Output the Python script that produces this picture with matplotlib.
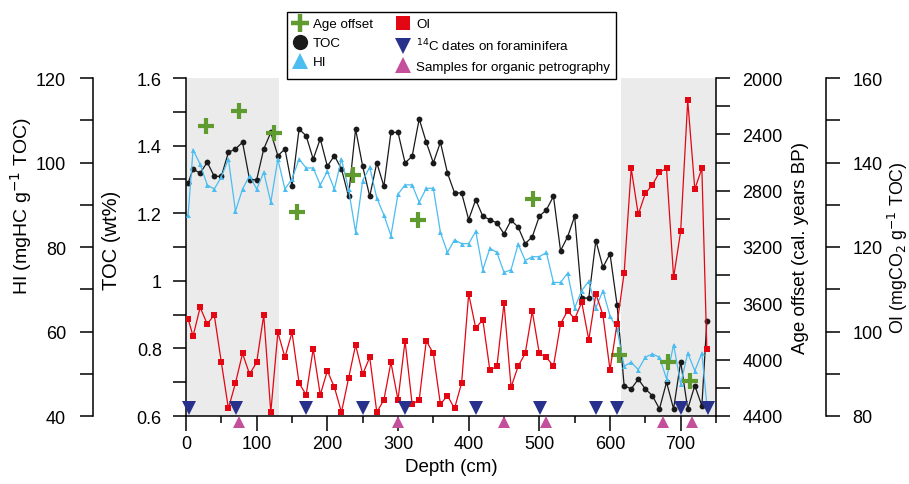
import matplotlib
matplotlib.use("Agg")
import matplotlib.pyplot as plt
from matplotlib.lines import Line2D
from matplotlib.ticker import MultipleLocator, FixedLocator
import matplotlib.transforms as mtransforms

plt.rcParams['font.family'] = ['Liberation Sans', 'DejaVu Sans']

# ---------------- data ----------------
depth = [3, 10, 20, 30, 40, 50, 60, 70, 80, 90,
         100, 110, 120, 130, 140, 150, 160, 170, 180, 190,
         200, 210, 220, 230, 240, 250, 260, 270, 280, 290,
         300, 310, 320, 330, 340, 350, 360, 370, 380, 390,
         400, 410, 420, 430, 440, 450, 460, 470, 480, 490,
         500, 510, 520, 530, 540, 550, 560, 570, 580, 590,
         600, 610, 620, 630, 640, 650, 660, 670, 680, 690,
         700, 710, 720, 730, 737]

toc = [1.289, 1.331, 1.318, 1.351, 1.309, 1.309, 1.380, 1.390, 1.410, 1.299,
       1.299, 1.390, 1.439, 1.370, 1.390, 1.280, 1.449, 1.429, 1.360, 1.420,
       1.339, 1.370, 1.331, 1.250, 1.449, 1.339, 1.250, 1.349, 1.280, 1.439,
       1.439, 1.349, 1.368, 1.479, 1.410, 1.349, 1.410, 1.319, 1.260, 1.260,
       1.181, 1.240, 1.191, 1.181, 1.171, 1.139, 1.179, 1.159, 1.110, 1.130,
       1.191, 1.210, 1.250, 1.089, 1.130, 1.191, 0.949, 0.949, 1.119, 1.040,
       1.080, 0.929, 0.690, 0.680, 0.709, 0.680, 0.660, 0.621, 0.700, 0.621,
       0.761, 0.621, 0.690, 0.630, 0.880]

hi = [87.6, 103.0, 99.6, 94.7, 93.7, 96.6, 100.8, 88.5, 93.7, 96.9,
      93.7, 97.7, 90.6, 100.8, 93.7, 96.1, 100.8, 98.7, 98.7, 94.7,
      97.9, 93.7, 100.8, 93.7, 83.5, 95.7, 98.9, 91.6, 87.6, 82.7,
      92.5, 94.7, 94.7, 90.6, 93.9, 93.9, 83.5, 78.7, 81.7, 80.8,
      80.8, 83.7, 74.6, 79.7, 78.7, 74.0, 74.6, 80.7, 76.8, 77.7,
      77.7, 78.7, 71.6, 71.6, 73.8, 65.6, 69.7, 71.9, 65.6, 69.7,
      63.7, 60.6, 51.8, 52.7, 51.0, 53.9, 54.7, 53.9, 48.8, 56.9,
      47.6, 54.9, 50.7, 54.9, 42.8]

oi = [103.0, 98.9, 105.7, 101.8, 103.9, 92.7, 81.8, 87.8, 94.8, 89.9,
      92.7, 103.9, 80.9, 99.8, 93.9, 99.8, 87.8, 85.0, 95.9, 85.0,
      90.7, 86.8, 80.9, 88.9, 96.8, 89.9, 93.9, 80.9, 83.8, 92.7,
      83.8, 97.8, 82.8, 83.8, 97.8, 94.8, 82.8, 84.8, 81.8, 87.8,
      108.9, 100.8, 102.8, 90.8, 91.8, 106.7, 86.8, 91.8, 94.8, 104.8,
      94.8, 93.9, 91.8, 101.8, 104.9, 103.0, 106.9, 98.0, 108.9, 103.9,
      90.9, 101.8, 113.8, 138.6, 127.7, 132.7, 134.7, 137.7, 138.6, 112.8,
      123.7, 154.7, 133.7, 138.6, 95.9]

age_depth = [29, 75, 125, 157, 236, 329, 491, 613, 682, 713]
age_offset = [2343, 2232, 2393, 2954, 2689, 3006, 2859, 3967, 4014, 4149]

c14_depth = [4, 71, 170, 250, 310, 410, 501, 580, 610, 700, 738]
petro_depth = [75, 300, 450, 510, 675, 716]

shade_ranges = [(0, 132), (616, 750)]

depth_ticks = [0, 100, 200, 300, 400, 500, 600, 700]
toc_ticks = [0.6, 0.8, 1.0, 1.2, 1.4, 1.6]
toc_ticklabels = ['0.6', '0.8', '1', '1.2', '1.4', '1.6']
hi_ticks = [40, 60, 80, 100, 120]
age_ticks = [2000, 2400, 2800, 3200, 3600, 4000, 4400]
oi_ticks = [80, 100, 120, 140, 160]

# ---------------- styles ----------------
C_TOC = '#1a1a1a'
C_HI = '#4cbdf0'
C_OI = '#e30613'
C_AGE = '#5f9b2f'
C_C14 = '#27318b'
C_PET = '#c4509c'
C_SHADE = '#ebebeb'
TICK_FS = 13
LABEL_FS = 13.5
SPW = 1.1

W, H = 909, 485
fig = plt.figure(figsize=(W / 100, H / 100), dpi=100)
L, R, B, T = 186, 716, 417, 79
ax = fig.add_axes([L / W, 1 - B / H, (R - L) / W, (B - T) / H])

for a, b in shade_ranges:
    ax.axvspan(a, b, color=C_SHADE, lw=0, zorder=0)

ax.set_xlim(0, 750)
ax.set_ylim(0.6, 1.6)
ax.xaxis.set_major_locator(FixedLocator(depth_ticks))
ax.xaxis.set_minor_locator(MultipleLocator(50))
ax.set_yticks(toc_ticks)
ax.set_yticklabels(toc_ticklabels)
ax.yaxis.set_minor_locator(MultipleLocator(0.1))
ax.tick_params(axis='x', which='major', length=10.8, width=SPW, labelsize=TICK_FS, pad=3)
ax.tick_params(axis='x', which='minor', length=5, width=SPW)
ax.tick_params(axis='y', which='both', length=9.4, width=SPW, labelsize=TICK_FS, pad=8)
ax.spines['top'].set_visible(False)
ax.spines['right'].set_visible(False)
ax.spines['left'].set_linewidth(SPW)
ax.spines['bottom'].set_linewidth(SPW)
ax.set_xlabel('Depth (cm)', fontsize=LABEL_FS, labelpad=4)
ax.set_ylabel('TOC (wt%)', fontsize=14.5)
ax.yaxis.set_label_coords((121 - L) / (R - L), (B - 240) / (B - T))

# HI axis (left, offset)
ax_hi = ax.twinx()
ax_hi.set_ylim(40, 120)
for s in ['right', 'top', 'bottom']:
    ax_hi.spines[s].set_visible(False)
ax_hi.spines['left'].set_visible(True)
ax_hi.spines['left'].set_position(('axes', (93 - L) / (R - L)))
ax_hi.spines['left'].set_linewidth(SPW)
ax_hi.yaxis.set_ticks_position('left')
ax_hi.yaxis.set_label_position('left')
ax_hi.set_yticks(hi_ticks)
ax_hi.yaxis.set_minor_locator(MultipleLocator(10))
ax_hi.tick_params(axis='y', which='both', length=9.4, width=SPW, labelsize=TICK_FS, pad=10)
ax_hi.set_ylabel('HI (mgHC g$^{-1}$ TOC)', fontsize=14)
ax_hi.yaxis.set_label_coords((34 - L) / (R - L), (B - 206) / (B - T))

# Age axis (right)
ax_age = ax.twinx()
ax_age.set_ylim(4400, 2000)
for s in ['left', 'top', 'bottom']:
    ax_age.spines[s].set_visible(False)
ax_age.spines['right'].set_linewidth(SPW)
ax_age.set_yticks(age_ticks)
ax_age.yaxis.set_minor_locator(MultipleLocator(200))
ax_age.tick_params(axis='y', which='both', length=10, width=SPW, labelsize=TICK_FS, pad=9)
ax_age.set_ylabel('Age offset (cal. years BP)', fontsize=LABEL_FS)
ax_age.yaxis.set_label_coords((792 - L) / (R - L), 0.5)

# OI axis (right, offset)
ax_oi = ax.twinx()
ax_oi.set_ylim(80, 160)
for s in ['left', 'top', 'bottom']:
    ax_oi.spines[s].set_visible(False)
ax_oi.spines['right'].set_position(('axes', (826 - L) / (R - L)))
ax_oi.spines['right'].set_linewidth(SPW)
ax_oi.set_yticks(oi_ticks)
ax_oi.yaxis.set_minor_locator(MultipleLocator(10))
ax_oi.tick_params(axis='y', which='both', length=10, width=SPW, labelsize=TICK_FS, pad=9)
ax_oi.set_ylabel('OI (mgCO$_2$ g$^{-1}$ TOC)', fontsize=12.8)
ax_oi.yaxis.set_label_coords((886 - L) / (R - L), 0.5)

# series
ax_hi.plot(depth, hi, color=C_HI, lw=0.9, marker='^', ms=3.6, mew=0, zorder=3)
ax.plot(depth, toc, color=C_TOC, lw=0.9, marker='o', ms=4.2, mew=0, zorder=4)
ax_oi.plot(depth, oi, color=C_OI, lw=0.9, marker='s', ms=3.8, mew=0, zorder=3)
ax_age.plot(age_depth, age_offset, ls='none', marker='+', ms=12, mew=3,
            color=C_AGE, zorder=5)

# sample markers along the depth axis
trans = mtransforms.blended_transform_factory(ax_oi.transData, ax_oi.transAxes)
c14_level = 8 / (B - T)
petro_level = -6 / (B - T)
ax_oi.plot(c14_depth, [c14_level] * len(c14_depth), ls='none', marker='v', ms=9.5,
           color=C_C14, mew=0, transform=trans, clip_on=False, zorder=6)
ax_oi.plot(petro_depth, [petro_level] * len(petro_depth), ls='none', marker='^', ms=8.5,
           color=C_PET, mew=0, transform=trans, clip_on=False, zorder=6)

# legend
handles = [
    Line2D([], [], ls='none', marker='+', ms=13, mew=3.2, color=C_AGE),
    Line2D([], [], ls='none', marker='o', ms=11, mew=0, color=C_TOC),
    Line2D([], [], ls='none', marker='^', ms=11, mew=0, color=C_HI),
    Line2D([], [], ls='none', marker='s', ms=10.5, mew=0, color=C_OI),
    Line2D([], [], ls='none', marker='v', ms=11, mew=0, color=C_C14),
    Line2D([], [], ls='none', marker='^', ms=11, mew=0, color=C_PET),
]
labels = ['Age offset', 'TOC', 'HI', 'OI', '$^{14}$C dates on foraminifera',
          'Samples for organic petrography']
leg = fig.legend(handles, labels, ncol=2, loc='upper left',
                 bbox_to_anchor=(287 / W, 1 - 13 / H), fontsize=9.6,
                 frameon=True, fancybox=False, framealpha=1, edgecolor='black',
                 borderpad=0.45, labelspacing=0.5, handlelength=1.0,
                 handletextpad=0.5, columnspacing=1.75, borderaxespad=0)
leg.get_frame().set_linewidth(1.0)

fig.savefig('out.png', dpi=100)
